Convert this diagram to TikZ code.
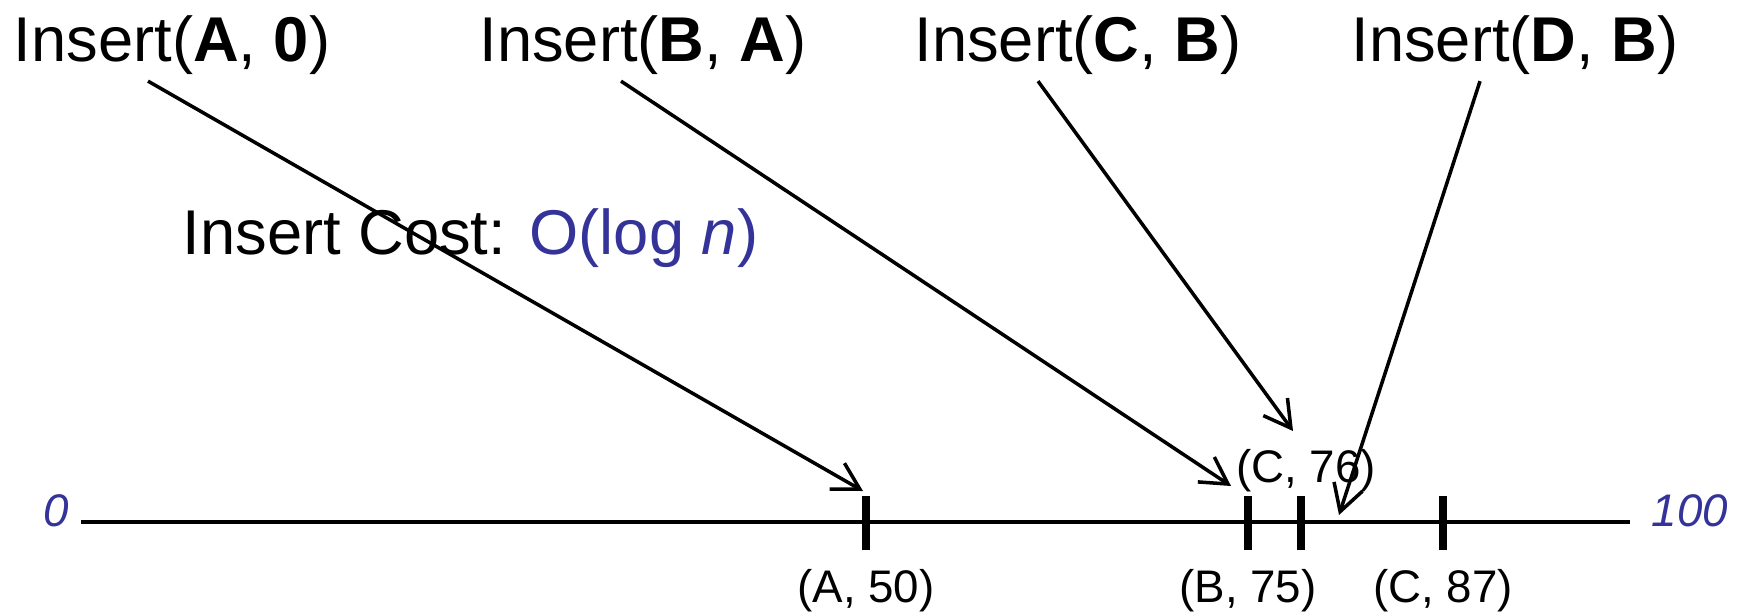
\documentclass[tikz,border=0pt]{standalone}
\usepackage{fontspec}
\setmainfont{Liberation Sans}
\usetikzlibrary{arrows.meta,positioning}
\definecolor{costblue}{RGB}{51,51,153}

\begin{document}
\begin{tikzpicture}[
  op/.style={font=\fontsize{18}{20}\selectfont, inner sep=0pt, outer ysep=2pt, anchor=base},
  keylbl/.style={font=\fontsize{13}{15}\selectfont, inner sep=0pt, anchor=base},
  endlbl/.style={font=\fontsize{13}{15}\selectfont\itshape, text=costblue, inner sep=0pt, anchor=base},
  tickmark/.style={fill=black, inner sep=0pt, minimum width=0.078cm, minimum height=0.54cm},
  conn/.style={line width=1pt, -{Straight Barb[length=7.5pt, width=8.5pt, line width=1pt]}},
]
\useasboundingbox (0,0) rectangle (17.47,6.14);

% Insert operations
\node[op] (iA) at (1.72, 5.53) {Insert(\textbf{A}, \textbf{0})};
\node[op] (iB) at (6.43, 5.53) {Insert(\textbf{B}, \textbf{A})};
\node[op] (iC) at (10.78, 5.53) {Insert(\textbf{C}, \textbf{B})};
\node[op] (iD) at (15.15, 5.53) {Insert(\textbf{D}, \textbf{B})};

% Cost note
\node[op, anchor=base west] (cost) at (1.82, 3.60)
  {Insert Cost: \textcolor{costblue}{O(log \textit{n})}};

% Key space line
\node[endlbl] (lo) at (0.56, 0.88) {0};
\node[endlbl] (hi) at (16.90, 0.88) {100};
\coordinate (axL) at (0.81, 0.92);
\coordinate (axR) at (16.30, 0.92);
\draw[line width=1.2pt] (axL) -- (axR);

% Ticks for inserted keys
\node[tickmark] (tA) at (8.66, 0.91) {};
\node[tickmark] (tB) at (12.48, 0.91) {};
\node[tickmark] (tC) at (13.01, 0.91) {};
\node[tickmark] (tCC) at (14.43, 0.91) {};

\node[keylbl] (kA) at (8.66, 0.12) {(A, 50)};
\node[keylbl] (kB) at (12.48, 0.12) {(B, 75)};
\node[keylbl] (kCC) at (14.43, 0.12) {(C, 87)};
\node[keylbl] (kC) at (13.06, 1.32) {(C, 76)};

% Arrow targets
\coordinate (endA) at (8.63, 1.23);
\coordinate (endB) at (12.31, 1.28);
\coordinate (endC) at (12.93, 1.83);
\coordinate (endD) at (13.39, 0.99);

\draw[conn] ([xshift=-0.24cm]iA.south) -- (endA);
\draw[conn] ([xshift=-0.22cm]iB.south) -- (endB);
\draw[conn] ([xshift=-0.40cm]iC.south) -- (endC);
\draw[conn] ([xshift=-0.35cm]iD.south) -- (endD);

\end{tikzpicture}
\end{document}
